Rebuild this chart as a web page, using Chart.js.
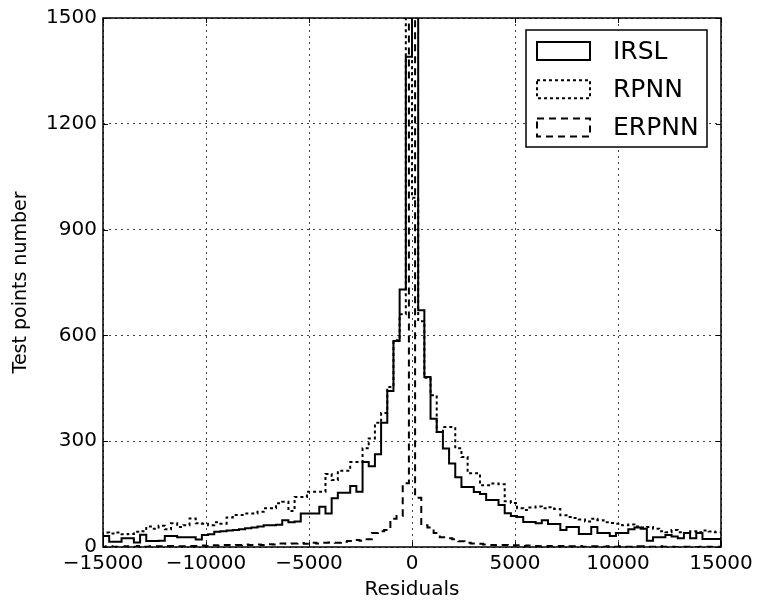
<!DOCTYPE html>
<html>
<head>
<meta charset="utf-8">
<script src="https://cdn.jsdelivr.net/npm/chart.js@4.4.0/dist/chart.umd.min.js"></script>
<style>
  html, body { margin: 0; padding: 0; background: #fff; }
  #wrap { width: 760px; height: 604px; }
</style>
</head>
<body>
<div id="wrap"><canvas id="myChart" width="760" height="604"></canvas></div>
<script>
// residual histograms, counts per bin
var binWidth = 300;
var irslStart = -15000;   // IRSL and RPNN bins start at -15000
var rpnnStart = -15000;
var erpnnStart = -15150;  // ERPNN bins are centred on multiples of 300

var irsl = [31, 15, 15, 25, 25, 13, 35, 17, 17, 18,
            31, 31, 28, 28, 28, 21, 34, 36, 43, 45,
            47, 48, 50, 53, 55, 58, 62, 62, 63, 76,
            70, 72, 95, 95, 95, 114, 95, 138, 154, 154,
            173, 157, 241, 229, 263, 352, 442, 584, 730, 1390,
            2100, 671, 482, 364, 326, 279, 237, 198, 170, 170,
            156, 150, 133, 133, 119, 96, 88, 85, 71, 71,
            67, 76, 65, 65, 48, 57, 57, 37, 37, 57,
            40, 40, 31, 40, 40, 50, 55, 52, 18, 28,
            28, 34, 30, 25, 40, 25, 40, 23, 23, 23];

var rpnn = [41, 38, 41, 36, 37, 43, 45, 58, 52, 60,
            50, 67, 57, 62, 81, 67, 66, 62, 70, 66,
            84, 91, 91, 95, 95, 100, 110, 110, 124, 128,
            102, 142, 142, 157, 157, 157, 207, 190, 216, 216,
            241, 241, 280, 308, 352, 380, 454, 586, 660, 2100,
            990, 640, 480, 430, 326, 340, 340, 280, 255, 209,
            209, 175, 175, 180, 178, 130, 125, 110, 105, 112,
            115, 110, 113, 108, 90, 85, 82, 78, 72, 80,
            76, 70, 68, 66, 62, 64, 58, 55, 57, 52,
            45, 42, 48, 42, 40, 45, 42, 47, 44, 42];

var erpnn = [1, 2, 1, 0, 2, 1, 3, 1, 2, 2,
             1, 3, 2, 2, 3, 3, 4, 3, 5, 4,
             6, 5, 6, 7, 6, 7, 6, 8, 7, 10,
             9, 10, 11, 9, 12, 10, 12, 13, 12, 15,
             17, 20, 18, 22, 40, 45, 48, 80, 88, 181,
             2100, 140, 62, 55, 40, 28, 25, 22, 16, 12,
             10, 9, 7, 6, 5, 6, 4, 5, 3, 4,
             3, 2, 3, 2, 3, 1, 2, 3, 1, 2,
             2, 1, 2, 1, 2, 1, 1, 2, 1, 1,
             2, 1, 1, 0, 1, 1, 0, 1, 1, 0, 1];

var seriesNames = ["IRSL", "RPNN", "ERPNN"];
var xTicks = [-15000, -10000, -5000, 0, 5000, 10000, 15000];
var yTicks = [0, 300, 600, 900, 1200, 1500];

// step outline like matplotlib histtype='step'
function stepPoints(counts, start) {
  var pts = [{x: start, y: 0}];
  for (var i = 0; i < counts.length; i++) {
    pts.push({x: start + i * binWidth, y: counts[i]});
  }
  var end = start + counts.length * binWidth;
  pts.push({x: end, y: counts[counts.length - 1]});
  pts.push({x: end, y: 0});
  return pts;
}

function fmt(v) {
  return v < 0 ? "\u2212" + Math.abs(v) : String(v);
}

var styles = [[], [3, 3], [7, 5]];

// frame, inward ticks and the boxed legend
var framePlugin = {
  id: "frame",
  afterDraw: function(chart) {
    var ctx = chart.ctx, a = chart.chartArea;
    var xs = chart.scales.x, ys = chart.scales.y;
    ctx.save();
    ctx.strokeStyle = "#000";
    ctx.setLineDash([]);
    ctx.lineWidth = 1.5;
    ctx.strokeRect(a.left, a.top, a.right - a.left, a.bottom - a.top);
    ctx.lineWidth = 1;
    ctx.beginPath();
    xTicks.forEach(function(v) {
      var px = Math.round(xs.getPixelForValue(v)) + 0.5;
      ctx.moveTo(px, a.bottom); ctx.lineTo(px, a.bottom - 5);
      ctx.moveTo(px, a.top); ctx.lineTo(px, a.top + 5);
    });
    yTicks.forEach(function(v) {
      var py = Math.round(ys.getPixelForValue(v)) + 0.5;
      ctx.moveTo(a.left, py); ctx.lineTo(a.left + 5, py);
      ctx.moveTo(a.right, py); ctx.lineTo(a.right - 5, py);
    });
    ctx.stroke();

    // legend
    var lx = 526, ly = 30, lw = 181, lh = 117;
    ctx.fillStyle = "#fff";
    ctx.fillRect(lx, ly, lw, lh);
    ctx.lineWidth = 1.5;
    ctx.strokeRect(lx, ly, lw, lh);
    ctx.font = "25px 'DejaVu Sans'";
    ctx.textBaseline = "middle";
    ctx.textAlign = "left";
    chart.data.datasets.forEach(function(ds, i) {
      var cy = 51 + i * 38.3;
      ctx.setLineDash(ds.borderDash);
      ctx.lineWidth = 2;
      ctx.strokeRect(537, cy - 9, 53, 18);
      ctx.setLineDash([]);
      ctx.fillStyle = "#000";
      ctx.fillText(ds.label, 613, cy + 1);
    });
    ctx.restore();
  }
};

Chart.defaults.font.family = "'DejaVu Sans'";
Chart.defaults.color = "#000";

var ctx = document.getElementById("myChart").getContext("2d");
var myChart = new Chart(ctx, {
  type: "line",
  data: {
    datasets: [
      { label: seriesNames[0], data: stepPoints(irsl, irslStart), borderDash: styles[0] },
      { label: seriesNames[1], data: stepPoints(rpnn, rpnnStart), borderDash: styles[1] },
      { label: seriesNames[2], data: stepPoints(erpnn, erpnnStart), borderDash: styles[2] }
    ].map(function(ds) {
      ds.borderColor = "#000";
      ds.borderWidth = 2;
      ds.pointRadius = 0;
      ds.fill = false;
      ds.stepped = "before";
      ds.clip = 0;
      return ds;
    })
  },
  options: {
    responsive: false,
    animation: false,
    devicePixelRatio: 1,
    layout: { padding: { top: 17, right: 39, left: 0, bottom: 0 } },
    plugins: { legend: { display: false }, tooltip: { enabled: false } },
    scales: {
      x: {
        type: "linear",
        min: -15000,
        max: 15000,
        afterBuildTicks: function(scale) {
          scale.ticks = xTicks.map(function(v) { return {value: v}; });
        },
        afterFit: function(scale) { scale.height = 57; },
        ticks: {
          font: { size: 20 },
          padding: 5,
          maxRotation: 0,
          autoSkip: false,
          callback: fmt
        },
        grid: { color: "#444", lineWidth: 1, drawTicks: false },
        border: { display: false, dash: [2, 4] },
        title: { display: true, text: "Residuals", font: { size: 20 }, padding: { top: 0, bottom: 2 } }
      },
      y: {
        min: 0,
        max: 1500,
        afterBuildTicks: function(scale) {
          scale.ticks = yTicks.map(function(v) { return {value: v}; });
        },
        afterFit: function(scale) { scale.width = 103; },
        ticks: { font: { size: 20 }, padding: 6, callback: fmt },
        grid: { color: "#444", lineWidth: 1, drawTicks: false },
        border: { display: false, dash: [2, 4] },
        title: { display: true, text: "Test points number", font: { size: 19 }, padding: { top: 10, bottom: 0 } }
      }
    }
  },
  plugins: [framePlugin]
});
</script>
</body>
</html>
